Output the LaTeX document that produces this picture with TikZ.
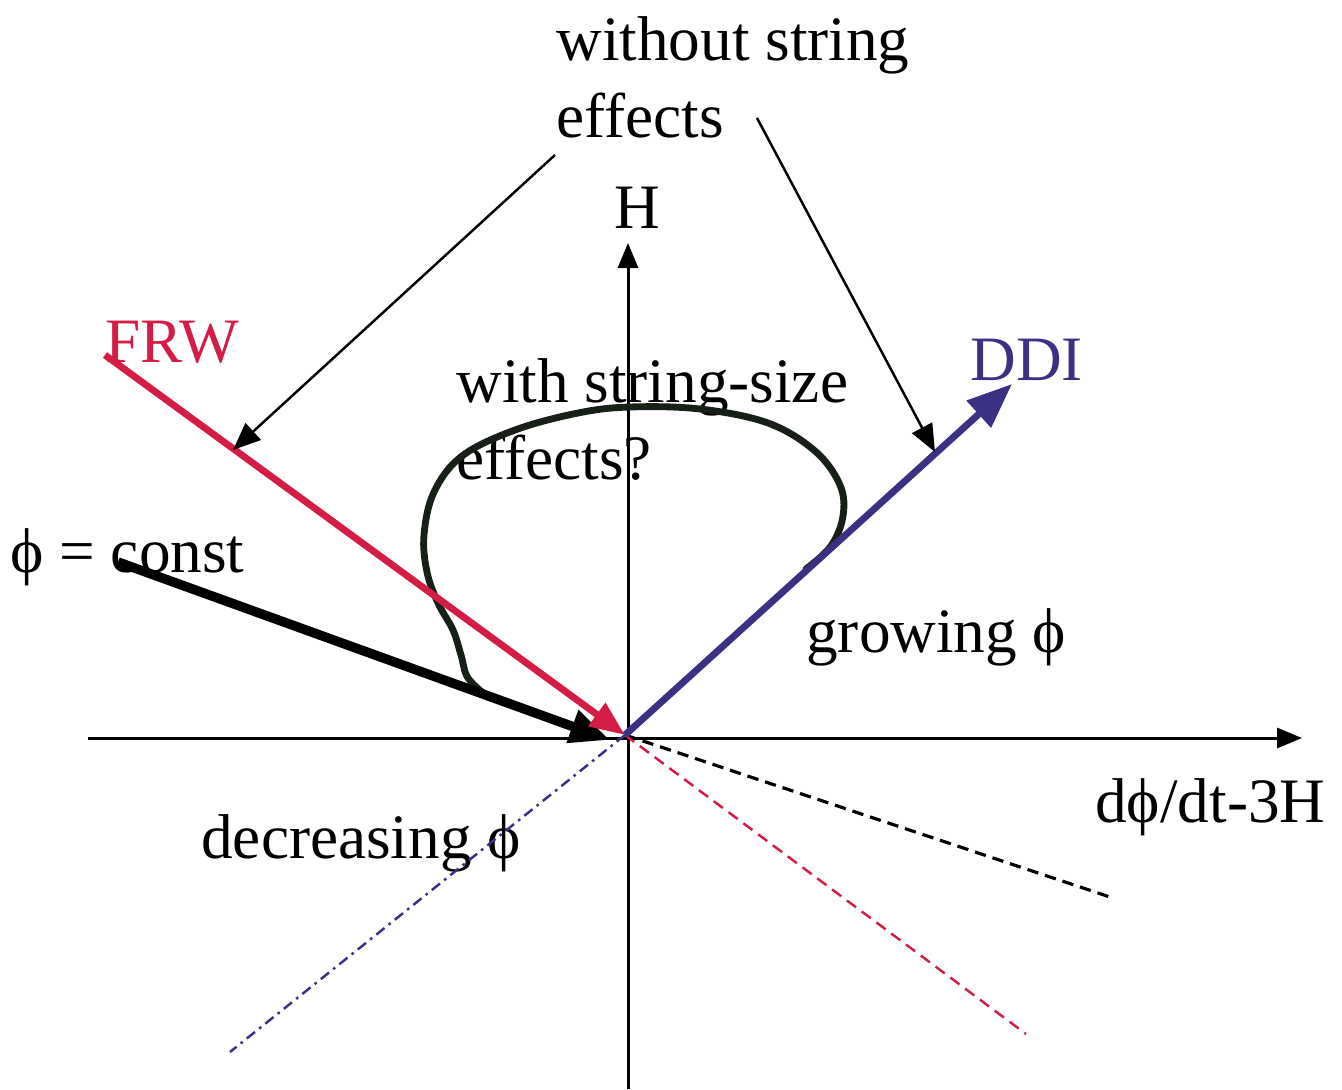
\documentclass[tikz,border=0pt]{standalone}
\usepackage{fontspec}
\setmainfont{Liberation Serif}
\usetikzlibrary{arrows.meta,positioning}
\definecolor{frwred}{RGB}{212,28,68}
\definecolor{ddiblue}{RGB}{58,48,132}
\definecolor{loopdark}{RGB}{22,32,22}
\tikzset{
    axis/.style={draw, line width=1.7pt, -{Triangle[length=5mm,width=4mm]}},
    ray/.style={draw, line width=3.9pt},
    pointer/.style={draw, line width=1.4pt, -{Triangle[length=5.5mm,width=4.5mm]}},
    ghost/.style={draw, line width=1.8pt, dash pattern=on 6.5pt off 4pt},
    lbl/.style={inner sep=0pt, anchor=base west, font=\fontsize{36}{44}\selectfont}
}
\begin{document}
\begin{tikzpicture}[x=0.02cm, y=-0.02cm]
    \useasboundingbox (0,0) rectangle (1342,1089);

    % Points
    \coordinate (O) at (625,735);
    \coordinate (xL) at (88,738);
    \coordinate (xR) at (1302,738);
    \coordinate (yB) at (628,1089);
    \coordinate (yT) at (628,243);
    \coordinate (frwS) at (105,355);
    \coordinate (ddiE) at (1012,384);
    \coordinate (cstS) at (118,562);
    \coordinate (cstE) at (610,740);
    \coordinate (dashK) at (1110,897);
    \coordinate (dashR) at (1026,1034);
    \coordinate (dashB) at (230,1052);
    \coordinate (onFrw) at (233,450);
    \coordinate (onDdi) at (935,452);
    \coordinate (woA) at (555,155);
    \coordinate (woB) at (757,118);

    % Labels
    \node[lbl, text=frwred] (frw) at (105,362) {FRW};
    \node[lbl, text=ddiblue] (ddi) at (970,380) {DDI};
    \node[lbl, anchor=base] (hlab) at (637,228) {H};
    \node[lbl] (cst) at (10,572) {ϕ = const};
    \node[lbl] (grow) at (806,652) {growing ϕ};
    \node[lbl] (decr) at (201,858) {decreasing ϕ};
    \node[lbl] (xlab) at (1095,822) {dϕ/dt-3H};
    \node[lbl, anchor=north west, align=left] (wo) at (556,16) {without string\\effects};
    \node[lbl, anchor=north west, align=left] (wi) at (456,358) {with string-size\\effects?};

    % axes
    \draw[axis] (xL) -- (xR);
    \draw[axis] (yB) -- (yT);

    % dashed continuations
    \draw[ghost, black] (O) -- (dashK);
    \draw[ghost, frwred, line width=1.4pt] (O) -- (dashR);
    \draw[draw=ddiblue, line width=1.4pt, dash pattern=on 6pt off 3pt on 1.5pt off 3pt] (O) -- (dashB);

    % the loop
    \draw[loopdark, line width=3.9pt, line cap=round] plot[smooth, tension=0.6] coordinates {
        (488,697) (468,678) (461,655) (453,630) (438,603) (427,572) (424,535)
        (434,492) (462,456) (515,430) (578,413) (630,407) (700,409) (768,423)
        (815,451) (840,485) (843,516) (831,546) (806,569)};

    % rays
    \draw[ray, black, line width=5.4pt, -{Triangle[length=8mm,width=6.5mm]}] (cstS) -- (cstE);
    \draw[ray, frwred, -{Triangle[length=7mm,width=5.5mm]}] (frwS) -- (O);
    \draw[ray, ddiblue, -{Triangle[length=9mm,width=7mm]}] (O) -- (ddiE);

    % pointers
    \draw[pointer] (woA) -- (onFrw);
    \draw[pointer] (woB) -- (onDdi);
\end{tikzpicture}
\end{document}
